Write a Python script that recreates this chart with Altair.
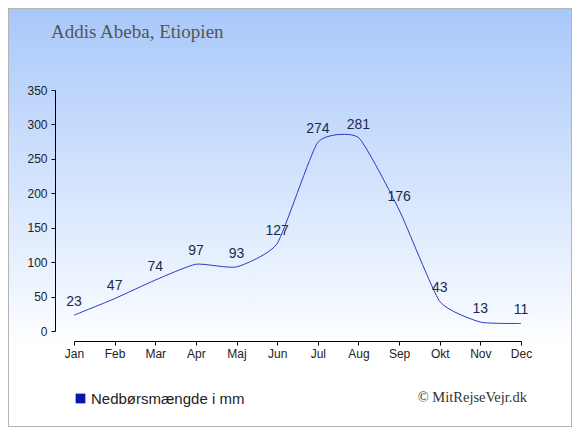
import altair as alt
import pandas as pd

months = ["Jan", "Feb", "Mar", "Apr", "Maj", "Jun", "Jul", "Aug", "Sep", "Okt", "Nov", "Dec"]
values = [23, 47, 74, 97, 93, 127, 274, 281, 176, 43, 13, 11]
series_name = "Nedbørsmængde i mm"
title_text = "Addis Abeba, Etiopien"
credit_text = "© MitRejseVejr.dk"
y_ticks = [0, 50, 100, 150, 200, 250, 300, 350]

df = pd.DataFrame({"month": months, "value": values, "series": series_name})

W, H = 447, 241
PL, PT, PR, PB = 66, 82, 51, 96

x_enc = alt.X("month:N", sort=months,
              scale=alt.Scale(type="point", padding=0),
              axis=alt.Axis(title=None, labelAngle=0, grid=False, offset=10, zindex=2,
                            domainColor="#000", tickColor="#000", tickSize=4,
                            labelFont="Liberation Sans", labelFontSize=12,
                            labelColor="#222", labelPadding=3))
y_enc = alt.Y("value:Q", scale=alt.Scale(domain=[0, 350], nice=False),
              axis=alt.Axis(title=None, values=y_ticks, grid=False, offset=19, zindex=2,
                            labelOverlap=False,
                            domainColor="#000", tickColor="#000", tickSize=4,
                            labelFont="Liberation Sans", labelFontSize=12,
                            labelColor="#222", labelPadding=4))

bg = alt.Chart(pd.DataFrame({"a": [0]})).mark_rect(
    fill=alt.Gradient(gradient="linear",
                      stops=[alt.GradientStop(color="#a8c8fa", offset=0),
                             alt.GradientStop(color="#f4f8ff", offset=0.72),
                             alt.GradientStop(color="#ffffff", offset=0.8),
                             alt.GradientStop(color="#ffffff", offset=1)],
                      x1=0, x2=0, y1=0, y2=1),
    stroke="#b4b4b4", strokeWidth=2
).encode(x=alt.value(-PL), x2=alt.value(W + PR), y=alt.value(-PT), y2=alt.value(H + PB))

base = alt.Chart(df)

line = base.mark_line(interpolate="cardinal", tension=0.5, strokeWidth=1).encode(
    x=x_enc, y=y_enc,
    color=alt.Color("series:N",
                    scale=alt.Scale(domain=[series_name], range=["#2b3bc4"]),
                    legend=alt.Legend(title=None, orient="none", legendX=-1, legendY=301,
                                      symbolType="square", symbolSize=95,
                                      symbolFillColor="#0a16a8", symbolStrokeColor="#0a16a8",
                                      symbolStrokeWidth=0, labelFont="Liberation Sans",
                                      labelFontSize=15, labelColor="#222", labelOffset=3))
)

labels = base.mark_text(dy=-13, fontSize=14, font="Liberation Sans", color="#1c2a52").encode(
    x=x_enc, y=y_enc, text="value:Q"
)

title = alt.Chart(pd.DataFrame({"a": [0]})).mark_text(
    align="left", baseline="alphabetic", font="Liberation Serif", fontSize=19, color="#555555"
).encode(x=alt.value(-23), y=alt.value(-52), text=alt.value(title_text))

credit = alt.Chart(pd.DataFrame({"a": [0]})).mark_text(
    align="right", baseline="middle", font="Liberation Serif", fontSize=14.5, color="#333333"
).encode(x=alt.value(453), y=alt.value(308), text=alt.value(credit_text))

chart = alt.layer(bg, line, labels, title, credit).properties(
    width=W, height=H,
    autosize=alt.AutoSizeParams(type="none"),
    padding={"left": PL, "top": PT, "right": PR, "bottom": PB},
).configure_view(stroke=None).configure(background="#ffffff")

chart.save("out.html", embed_options={"renderer": "svg", "actions": False})
